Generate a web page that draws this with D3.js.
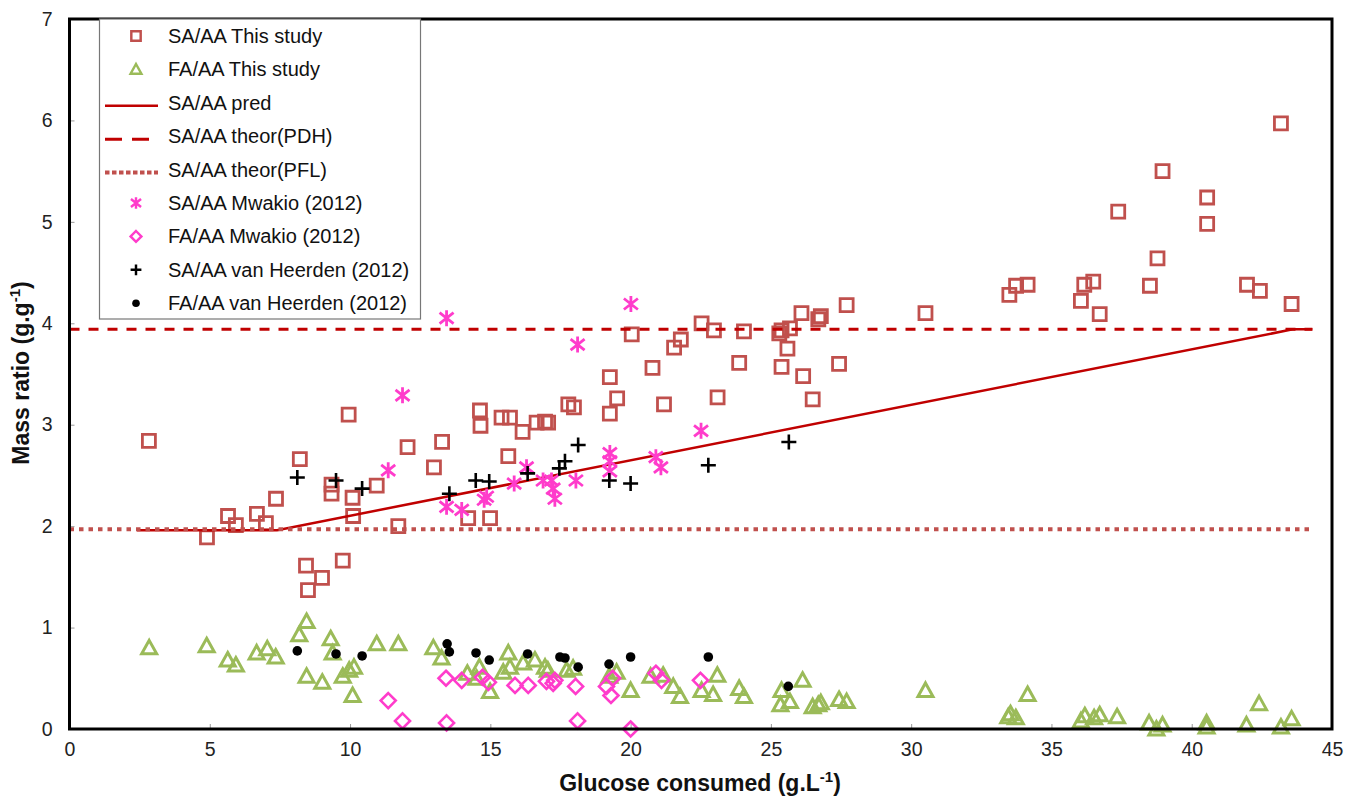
<!DOCTYPE html>
<html>
<head>
<meta charset="utf-8">
<script src="https://cdn.jsdelivr.net/npm/d3@7"></script>
<style>
  body { margin: 0; background: #fff; }
  svg { display: block; font-family: "Liberation Sans", Arial, sans-serif; }
</style>
</head>
<body>
<div id="chart"></div>
<script>
// ---- data ----
// SA/AA this study (squares)
let saThis = [
  [2.83,2.84],[4.90,1.89],[5.65,2.10],[5.93,2.01],[6.68,2.12],[7.00,2.03],[7.36,2.27],
  [8.21,2.66],[8.43,1.61],[8.50,1.37],[9.00,1.49],[9.74,1.66],[9.95,3.10],[9.34,2.41],
  [9.34,2.32],[10.09,2.28],[10.11,2.10],[10.95,2.40],[11.72,2.00],[12.05,2.78],[12.99,2.58],
  [13.28,2.83],[14.63,3.14],[14.65,2.99],[14.21,2.08],[14.99,2.08],[15.64,2.69],[15.40,3.07],
  [15.70,3.07],[16.15,2.93],[16.65,3.02],[16.95,3.03],[17.06,3.02],[17.78,3.20],[17.98,3.17],
  [19.26,3.47],[19.52,3.26],[19.26,3.11],[20.04,3.89],[20.78,3.56],[21.19,3.20],[21.55,3.76],
  [21.79,3.84],[22.53,4.00],[22.97,3.93],[23.10,3.27],[24.04,3.92],[23.87,3.61],[25.38,3.93],
  [25.38,3.57],[25.59,3.75],[25.68,3.95],[25.30,3.90],[26.09,4.10],[26.15,3.48],[26.69,4.04],
  [26.78,4.07],[26.49,3.25],[27.43,3.60],[27.70,4.18],[30.51,4.10],[33.50,4.28],[33.74,4.37],
  [34.15,4.38],[36.05,4.22],[36.17,4.38],[36.49,4.41],[36.72,4.09],[37.38,5.10],[38.51,4.37],
  [38.96,5.50],[38.78,4.64],[40.55,5.24],[40.55,4.98],[41.97,4.38],[42.43,4.32],[43.18,5.97],
  [43.56,4.19]
];
// FA/AA this study (triangles)
let faThis = [
  [2.84,0.80],[4.89,0.82],[5.64,0.68],[5.93,0.63],[6.67,0.75],[7.05,0.79],[7.35,0.71],
  [8.45,1.06],[8.19,0.93],[8.45,0.52],[9.01,0.46],[9.31,0.89],[9.38,0.75],[9.74,0.52],
  [9.97,0.58],[10.14,0.61],[10.09,0.33],[10.95,0.84],[11.72,0.84],[12.97,0.80],[13.26,0.70],
  [14.18,0.55],[14.61,0.61],[14.51,0.50],[14.99,0.37],[15.64,0.75],[15.46,0.56],[15.70,0.61],
  [16.17,0.65],[16.59,0.68],[16.95,0.61],[17.05,0.58],[17.72,0.58],[17.95,0.60],[19.24,0.52],
  [19.50,0.56],[20.00,0.38],[20.71,0.52],[21.16,0.53],[21.52,0.42],[21.76,0.32],[22.53,0.38],
  [23.09,0.53],[22.94,0.34],[23.87,0.40],[24.04,0.32],[25.38,0.38],[25.34,0.24],[25.68,0.27],
  [26.13,0.48],[26.49,0.22],[26.69,0.24],[26.78,0.26],[27.43,0.29],[27.70,0.27],[30.51,0.38],
  [33.46,0.12],[33.54,0.15],[33.73,0.11],[34.15,0.34],[36.05,0.08],[36.19,0.13],[36.52,0.11],
  [36.72,0.14],[37.34,0.12],[38.48,0.06],[38.74,0.00],[38.96,0.04],[40.53,0.06],[40.53,0.02],
  [41.95,0.04],[42.40,0.25],[43.18,0.02],[43.56,0.10]
];
// model lines
let predX = [2.4, 7.4, 43.6, 44.3];
let predY = [1.96, 1.96, 3.94, 3.94];
let pdhX = [0, 44.3];
let pdhY = [3.94, 3.94];
let pflX = [0, 44.3];
let pflY = [1.97, 1.97];
// Mwakio (2012)
let saMwakio = [
  [13.44,4.05],[11.87,3.29],[20.01,4.19],[18.11,3.79],[11.36,2.55],[13.44,2.19],[13.98,2.16],
  [14.78,2.26],[14.87,2.29],[15.85,2.42],[16.29,2.58],[16.88,2.45],[17.18,2.45],[17.30,2.27],
  [17.24,2.37],[18.05,2.45],[19.26,2.72],[19.26,2.64],[19.26,2.54],[20.90,2.68],[21.08,2.58],
  [22.51,2.94]
];
let faMwakio = [
  [11.36,0.28],[11.87,0.08],[13.42,0.50],[13.44,0.06],[13.98,0.48],[14.72,0.51],[14.93,0.46],
  [15.88,0.43],[16.35,0.43],[17.00,0.47],[17.24,0.45],[17.30,0.48],[18.04,0.42],[18.11,0.08],
  [19.14,0.42],[19.36,0.50],[19.30,0.33],[20.00,0.00],[20.90,0.55],[21.10,0.48],[22.49,0.48]
];
// van Heerden (2012)
let saHeerden = [
  [8.12,2.48],[9.50,2.45],[10.43,2.37],[13.54,2.32],[14.48,2.45],[14.96,2.44],[16.33,2.52],
  [17.46,2.57],[17.66,2.64],[18.13,2.80],[19.24,2.45],[20.00,2.42],[22.77,2.60],[25.64,2.83]
];
let faHeerden = [
  [8.12,0.77],[9.50,0.74],[10.43,0.72],[13.46,0.84],[13.54,0.76],[14.49,0.75],[14.96,0.68],
  [16.33,0.74],[17.48,0.71],[17.66,0.70],[18.13,0.61],[19.23,0.64],[20.00,0.71],[22.77,0.71],
  [25.62,0.42]
];
let xTicks = [0,5,10,15,20,25,30,35,40,45];
let yTicks = [0,1,2,3,4,5,6,7];
let legendNames = [
  "SA/AA This study","FA/AA This study","SA/AA pred","SA/AA theor(PDH)","SA/AA theor(PFL)",
  "SA/AA Mwakio (2012)","FA/AA Mwakio (2012)","SA/AA van Heerden (2012)","FA/AA van Heerden (2012)"
];

// ---- setup ----
let width = 1359, height = 798;
let svg = d3.select("#chart").append("svg")
  .attr("width", width)
  .attr("height", height);

let x = d3.scaleLinear().domain([0, 45]).range([69.5, 1332]);
let y = d3.scaleLinear().domain([0, 7]).range([729, 19]);

let red = "#C0504D", darkRed = "#C00000", green = "#9BBB59", pink = "#FF3CCB";

// marker shapes (drawn around 0,0)
let shapes = {
  square: "M-6.5,-6.5H6.5V6.5H-6.5Z",
  triangle: "M0,-7.5L7.5,6L-7.5,6Z",
  diamond: "M0,-7.5L7.5,0L0,7.5L-7.5,0Z",
  star: "M0,-8V8M-7,-5.5L7,5.5M-7,5.5L7,-5.5",
  plus: "M-7.5,0H7.5M0,-7.5V7.5"
};

// axis ticks (small, inward, grey)
let xAxis = d3.axisBottom(x).tickValues(xTicks).tickFormat(d3.format("d")).tickSize(-5).tickPadding(13);
let yAxis = d3.axisLeft(y).tickValues(yTicks).tickFormat(d3.format("d")).tickSize(-5).tickPadding(17);

svg.append("g").attr("transform", "translate(0,729)").call(xAxis).call(styleAxis);
svg.append("g").attr("transform", "translate(69.5,0)").call(yAxis).call(styleAxis);

function styleAxis(g) {
  g.select(".domain").remove();
  g.selectAll(".tick line").attr("stroke", "#999").attr("stroke-width", 1);
  g.selectAll(".tick text")
    .attr("font-size", 19.5)
    .attr("fill", "#222")
    .attr("font-family", "Liberation Sans, Arial, sans-serif");
}

// ---- series ----
function drawPoints(data, shape, color, sw) {
  svg.append("g").selectAll("path")
    .data(data)
    .enter()
    .append("path")
    .attr("transform", d => "translate(" + x(d[0]) + "," + y(d[1]) + ")")
    .attr("d", shapes[shape])
    .attr("fill", "none")
    .attr("stroke", color)
    .attr("stroke-width", sw);
}

function drawLine(xs, ys, color, sw, dash) {
  let line = d3.line().x(d => x(d[0])).y(d => y(d[1]));
  svg.append("path")
    .datum(xs.map((v, i) => [v, ys[i]]))
    .attr("d", line)
    .attr("fill", "none")
    .attr("stroke", color)
    .attr("stroke-width", sw)
    .attr("stroke-dasharray", dash);
}

drawPoints(saThis, "square", red, 2.8);
drawPoints(faThis, "triangle", green, 3);
drawLine(predX, predY, darkRed, 2.5, null);
drawLine(pdhX, pdhY, darkRed, 3, "10,9");
drawLine(pflX, pflY, red, 4, "4.5,5");
drawPoints(saMwakio, "star", pink, 2.8);
drawPoints(faMwakio, "diamond", pink, 2.6);
drawPoints(saHeerden, "plus", "#000", 2.6);

svg.append("g").selectAll("circle")
  .data(faHeerden)
  .enter()
  .append("circle")
  .attr("cx", d => x(d[0]))
  .attr("cy", d => y(d[1]))
  .attr("r", 4.8)
  .attr("fill", "#000");

// ---- frame ----
svg.append("rect")
  .attr("x", 69.5).attr("y", 19)
  .attr("width", 1332 - 69.5).attr("height", 729 - 19)
  .attr("fill", "none")
  .attr("stroke", "#000")
  .attr("stroke-width", 3);

// ---- legend ----
let lg = svg.append("g");
lg.append("rect")
  .attr("x", 99.5).attr("y", 19)
  .attr("width", 321).attr("height", 300)
  .attr("fill", "#fff")
  .attr("stroke", "#777")
  .attr("stroke-width", 1.2);

let rowY = i => 36 + i * 33.4;

lg.selectAll("text")
  .data(legendNames)
  .enter()
  .append("text")
  .attr("x", 168)
  .attr("y", (d, i) => rowY(i))
  .attr("dy", "0.35em")
  .attr("font-size", 20)
  .attr("fill", "#111")
  .text(d => d);

function legendMark(i, shape, color) {
  lg.append("path")
    .attr("transform", "translate(136," + rowY(i) + ") scale(0.72)")
    .attr("d", shapes[shape])
    .attr("fill", "none")
    .attr("stroke", color)
    .attr("stroke-width", 3.4);
}
function legendLine(i, color, sw, dash) {
  lg.append("line")
    .attr("x1", 105).attr("x2", 158)
    .attr("y1", rowY(i) + 3).attr("y2", rowY(i) + 3)
    .attr("stroke", color)
    .attr("stroke-width", sw)
    .attr("stroke-dasharray", dash);
}
legendMark(0, "square", red);
legendMark(1, "triangle", green);
legendLine(2, darkRed, 2.5, null);
legendLine(3, darkRed, 3, "17,10");
legendLine(4, red, 4, "4.5,2.5");
legendMark(5, "star", pink);
legendMark(6, "diamond", pink);
legendMark(7, "plus", "#000");
lg.append("circle").attr("cx", 136).attr("cy", rowY(8)).attr("r", 3.8).attr("fill", "#000");

// ---- axis titles ----
let xt = svg.append("text")
  .attr("x", 700).attr("y", 791)
  .attr("text-anchor", "middle")
  .attr("font-size", 23)
  .attr("font-weight", "bold")
  .attr("fill", "#111");
xt.append("tspan").text("Glucose consumed (g.L");
xt.append("tspan").attr("font-size", 15).attr("dy", -9).text("-1");
xt.append("tspan").attr("dy", 9).text(")");

let yt = svg.append("text")
  .attr("transform", "translate(29,373) rotate(-90)")
  .attr("text-anchor", "middle")
  .attr("font-size", 23)
  .attr("font-weight", "bold")
  .attr("fill", "#111");
yt.append("tspan").text("Mass ratio (g.g");
yt.append("tspan").attr("font-size", 15).attr("dy", -9).text("-1");
yt.append("tspan").attr("dy", 9).text(")");
</script>
</body>
</html>
